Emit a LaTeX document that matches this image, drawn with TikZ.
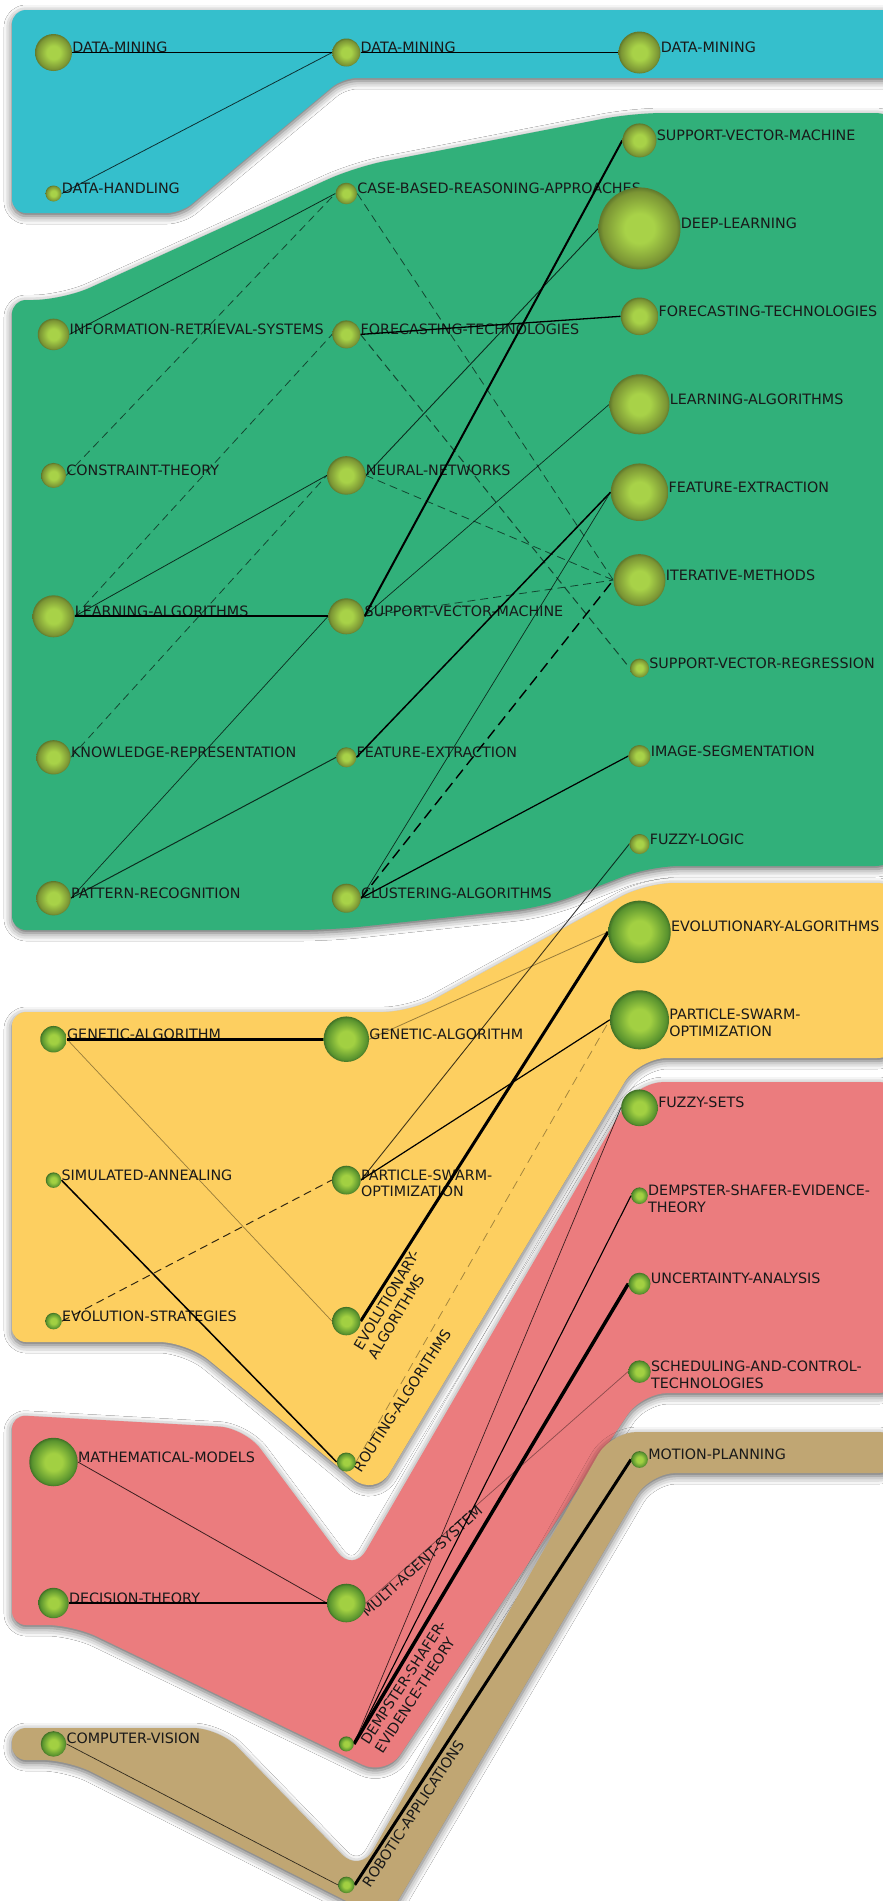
\documentclass[tikz,border=0pt]{standalone}
\usepackage{fontspec}
\setmainfont{DejaVu Sans}
\usetikzlibrary{shadows.blur}
\definecolor{cyanband}{RGB}{53,191,204}
\definecolor{greenband}{RGB}{49,176,122}
\definecolor{yellowband}{RGB}{253,207,96}
\definecolor{redband}{RGB}{235,124,126}
\definecolor{tanband}{RGB}{192,166,115}
\definecolor{aIn}{RGB}{168,210,72}
\definecolor{aOut}{RGB}{122,148,52}
\definecolor{aEdge}{RGB}{96,120,44}
\definecolor{bIn}{RGB}{162,208,66}
\definecolor{bOut}{RGB}{88,146,46}
\definecolor{bEdge}{RGB}{64,112,38}
\pgfdeclareradialshading{ballAshade}{\pgfpoint{0bp}{0bp}}{color(0bp)=(aIn); color(9bp)=(aIn); color(22.5bp)=(aOut); color(25bp)=(aEdge); color(50bp)=(aEdge)}
\pgfdeclareradialshading{ballBshade}{\pgfpoint{0bp}{0bp}}{color(0bp)=(bIn); color(9bp)=(bIn); color(22.5bp)=(bOut); color(25bp)=(bEdge); color(50bp)=(bEdge)}
\pgfdeclarelayer{bands}
\pgfdeclarelayer{labels}
\pgfdeclarelayer{edges}
\pgfsetlayers{bands,labels,edges,main}
\newcommand\twolines[2]{\vtop{\hbox{#1}\hbox{#2}}}
\begin{document}
\begin{tikzpicture}[x=1pt,y=-1pt,
  band/.style={blur shadow={shadow xshift=0pt,shadow yshift=-3pt,shadow blur radius=8pt,shadow opacity=62}},
  ballA/.style={circle,inner sep=0pt,shading=ballAshade},
  ballB/.style={circle,inner sep=0pt,shading=ballBshade},
  lbl/.style={anchor=base west,inner sep=0pt,text=black!90,font=\fontsize{14.3}{16.6}\selectfont},
  thinl/.style={line width=0.8pt,draw=black,draw opacity=0.75},
  lightl/.style={line width=0.8pt,draw=black,draw opacity=0.4},
  medl/.style={line width=1.5pt,draw=black},
  thkl/.style={line width=3pt,draw=black},
  dashl/.style={line width=0.8pt,draw=black,draw opacity=0.6,dash pattern=on 8pt off 5pt},
  dashlight/.style={line width=0.8pt,draw=black,draw opacity=0.35,dash pattern=on 9pt off 6pt},
  dashmed/.style={line width=1.4pt,draw=black,dash pattern=on 11pt off 6pt}]
\useasboundingbox (0,0) rectangle (883,1901);
\begin{pgfonlayer}{bands}
\fill[white] (0,0) rectangle (883,1901);
% cyan
\fill[cyanband,band,rounded corners=14pt] (12,10) -- (905,10) -- (905,78) -- (343,78) -- (181,213) -- (12,213) -- cycle;
% green
\fill[greenband,band,rounded corners=30pt] (12,300) -- (63,300) -- (355,167) -- (633,113) -- (905,113) -- (905,866) -- (650,866) -- (545,907) -- (330,930) [rounded corners=14pt] -- (12,930) -- cycle;
% yellow
\fill[yellowband,band,rounded corners=28pt] (12,1012) -- (411,1012) -- (646,883) -- (905,883) -- (905,1058) -- (639,1058) -- (375,1497) -- (187,1342) [rounded corners=14pt] -- (12,1342) -- cycle;
% red
\fill[redband,band,rounded corners=26pt] (12,1415) -- (245,1428) -- (353,1573) -- (638,1082) -- (905,1082) -- (905,1393) -- (642,1393) -- (386,1776) -- (73,1625) [rounded corners=14pt] -- (12,1625) -- cycle;
% tan
\fill[tanband,band,rounded corners=26pt] (12,1728) -- (219,1728) -- (360,1873) -- (611,1432) -- (905,1432) -- (905,1473) -- (650,1473) -- (386,1921) -- (68,1760) [rounded corners=14pt] -- (12,1760) -- cycle;
\end{pgfonlayer}
% column 1
\node[ballA,minimum size=37pt] (dm1) at (53.5,52.5) {};
\node[ballA,minimum size=16pt] (dh) at (53.5,193.5) {};
\node[ballA,minimum size=31.5pt] (irs) at (53.5,334.4) {};
\node[ballA,minimum size=25pt] (ct) at (53.5,475.4) {};
\node[ballA,minimum size=42pt] (la1) at (53.5,616.3) {};
\node[ballA,minimum size=34.3pt] (kr) at (53.5,757.3) {};
\node[ballA,minimum size=34.4pt] (pr) at (53.5,898.2) {};
\node[ballB,minimum size=26.5pt] (ga1) at (53.5,1039.2) {};
\node[ballB,minimum size=15.5pt] (sa) at (53.5,1180.1) {};
\node[ballB,minimum size=16.5pt] (es) at (53.5,1321.1) {};
\node[ballB,minimum size=48.5pt] (mm) at (53.5,1462) {};
\node[ballB,minimum size=30.4pt] (dt) at (53.5,1603) {};
\node[ballB,minimum size=25.5pt] (cv) at (53.5,1743.9) {};
% column 2
\node[ballA,minimum size=28pt] (dm2) at (346.3,52.5) {};
\node[ballA,minimum size=21.5pt] (cbr) at (346.3,193.5) {};
\node[ballA,minimum size=28pt] (ft2) at (346.3,334.4) {};
\node[ballA,minimum size=38.5pt] (nn) at (346.3,475.4) {};
\node[ballA,minimum size=36pt] (svm2) at (346.3,616.3) {};
\node[ballA,minimum size=20pt] (fe2) at (346.3,757.3) {};
\node[ballA,minimum size=29pt] (ca) at (346.3,898.2) {};
\node[ballB,minimum size=45.5pt] (ga2) at (346.3,1039.2) {};
\node[ballB,minimum size=28.8pt] (pso2) at (346.3,1180.1) {};
\node[ballB,minimum size=28.4pt] (ea2) at (346.3,1321.1) {};
\node[ballB,minimum size=19pt] (ra) at (346.3,1462) {};
\node[ballB,minimum size=38.6pt] (mas) at (346.3,1603) {};
\node[ballB,minimum size=15pt] (dst2) at (346.3,1743.9) {};
\node[ballB,minimum size=16.5pt] (rob) at (346.3,1884.9) {};
% column 3
\node[ballA,minimum size=42pt] (dm3) at (639.5,52.5) {};
\node[ballA,minimum size=34pt] (svm3) at (639.5,140.4) {};
\node[ballA,minimum size=82pt] (dl) at (639.5,228.4) {};
\node[ballA,minimum size=37.6pt] (ft3) at (639.5,316.3) {};
\node[ballA,minimum size=60pt] (la3) at (639.5,404.3) {};
\node[ballA,minimum size=57.5pt] (fe3) at (639.5,492.2) {};
\node[ballA,minimum size=52pt] (iter) at (639.5,580.1) {};
\node[ballA,minimum size=19pt] (svr) at (639.5,668.1) {};
\node[ballA,minimum size=22pt] (imgs) at (639.5,756) {};
\node[ballA,minimum size=20pt] (fl) at (639.5,844) {};
\node[ballB,minimum size=62.5pt] (ea3) at (639.5,931.9) {};
\node[ballB,minimum size=59pt] (pso3) at (639.5,1019.8) {};
\node[ballB,minimum size=36.7pt] (fs) at (639.5,1107.8) {};
\node[ballB,minimum size=16.6pt] (dst3) at (639.5,1195.7) {};
\node[ballB,minimum size=22pt] (ua) at (639.5,1283.7) {};
\node[ballB,minimum size=22.5pt] (sch) at (639.5,1371.6) {};
\node[ballB,minimum size=16.7pt] (mp) at (639.5,1459.5) {};
\begin{pgfonlayer}{labels}
\node[lbl] at (dm1.east) {DATA-MINING};
\node[lbl] at (dh.east) {DATA-HANDLING};
\node[lbl] at (irs.east) {INFORMATION-RETRIEVAL-SYSTEMS};
\node[lbl] at (ct.east) {CONSTRAINT-THEORY};
\node[lbl] at (la1.east) {LEARNING-ALGORITHMS};
\node[lbl] at (kr.east) {KNOWLEDGE-REPRESENTATION};
\node[lbl] at (pr.east) {PATTERN-RECOGNITION};
\node[lbl] at (ga1.east) {GENETIC-ALGORITHM};
\node[lbl] at (sa.east) {SIMULATED-ANNEALING};
\node[lbl] at (es.east) {EVOLUTION-STRATEGIES};
\node[lbl] at (mm.east) {MATHEMATICAL-MODELS};
\node[lbl] at (dt.east) {DECISION-THEORY};
\node[lbl] at (cv.east) {COMPUTER-VISION};
\node[lbl] at (dm2.east) {DATA-MINING};
\node[lbl] at (cbr.east) {CASE-BASED-REASONING-APPROACHES};
\node[lbl] at (ft2.east) {FORECASTING-TECHNOLOGIES};
\node[lbl] at (nn.east) {NEURAL-NETWORKS};
\node[lbl] at (svm2.east) {SUPPORT-VECTOR-MACHINE};
\node[lbl] at (fe2.east) {FEATURE-EXTRACTION};
\node[lbl] at (ca.east) {CLUSTERING-ALGORITHMS};
\node[lbl] at (ga2.east) {GENETIC-ALGORITHM};
\node[lbl] at (pso2.east) {\twolines{PARTICLE-SWARM-}{OPTIMIZATION}};
\node[lbl,rotate=59] at (361.7,1351.7) {\twolines{EVOLUTIONARY-}{ALGORITHMS}};
\node[lbl,rotate=57] at (361,1473.3) {ROUTING-ALGORITHMS};
\node[lbl,rotate=42] at (367,1617.5) {MULTI-AGENT-SYSTEM};
\node[lbl,rotate=57] at (368.5,1745.5) {\twolines{DEMPSTER-SHAFER-}{EVIDENCE-THEORY}};
\node[lbl,rotate=56.5] at (370,1888.3) {ROBOTIC-APPLICATIONS};
\node[lbl] at (dm3.east) {DATA-MINING};
\node[lbl] at (svm3.east) {SUPPORT-VECTOR-MACHINE};
\node[lbl] at (dl.east) {DEEP-LEARNING};
\node[lbl] at (ft3.east) {FORECASTING-TECHNOLOGIES};
\node[lbl] at (la3.east) {LEARNING-ALGORITHMS};
\node[lbl] at (fe3.east) {FEATURE-EXTRACTION};
\node[lbl] at (iter.east) {ITERATIVE-METHODS};
\node[lbl] at (svr.east) {SUPPORT-VECTOR-REGRESSION};
\node[lbl] at (imgs.east) {IMAGE-SEGMENTATION};
\node[lbl] at (fl.east) {FUZZY-LOGIC};
\node[lbl] at (ea3.east) {EVOLUTIONARY-ALGORITHMS};
\node[lbl] at (pso3.east) {\twolines{PARTICLE-SWARM-}{OPTIMIZATION}};
\node[lbl] at (fs.east) {FUZZY-SETS};
\node[lbl] at (dst3.east) {\twolines{DEMPSTER-SHAFER-EVIDENCE-}{THEORY}};
\node[lbl] at (ua.east) {UNCERTAINTY-ANALYSIS};
\node[lbl] at (sch.east) {\twolines{SCHEDULING-AND-CONTROL-}{TECHNOLOGIES}};
\node[lbl] at (mp.east) {MOTION-PLANNING};
\end{pgfonlayer}
\begin{pgfonlayer}{edges}
\draw[medl] (dm1.east) -- (dm2.west);
\draw[thinl] (dh.east) -- (dm2.west);
\draw[medl] (dm2.east) -- (dm3.west);
\draw[thinl] (irs.east) -- (cbr.west);
\draw[dashl] (ct.east) -- (cbr.west);
\draw[dashl] (la1.east) -- (ft2.west);
\draw[thinl] (la1.east) -- (nn.west);
\draw[medl,line width=1.7pt] (la1.east) -- (svm2.west);
\draw[dashl] (kr.east) -- (nn.west);
\draw[thinl,line width=0.7pt] (pr.east) -- (svm2.west);
\draw[thinl,line width=1pt] (pr.east) -- (fe2.west);
\draw[dashl] (cbr.east) -- (iter.west);
\draw[medl,line width=1.3pt] (ft2.east) -- (ft3.west);
\draw[dashl,line width=1pt] (ft2.east) -- (svr.west);
\draw[thinl,line width=0.9pt] (nn.east) -- (dl.west);
\draw[dashl] (nn.east) -- (iter.west);
\draw[medl,line width=2pt] (svm2.east) -- (svm3.west);
\draw[thinl,line width=0.7pt] (svm2.east) -- (la3.west);
\draw[dashl] (svm2.east) -- (iter.west);
\draw[medl] (fe2.east) -- (fe3.west);
\draw[thinl,line width=0.7pt] (ca.east) -- (fe3.west);
\draw[dashmed] (ca.east) -- (iter.west);
\draw[medl,line width=1.2pt] (ca.east) -- (imgs.west);
\draw[thkl] (ga1.east) -- (ga2.west);
\draw[lightl,line width=0.7pt] (ga1.east) -- (ea2.west);
\draw[medl] (sa.east) -- (ra.west);
\draw[dashl,line width=1pt,draw opacity=0.8] (es.east) -- (pso2.west);
\draw[lightl] (ga2.east) -- (ea3.west);
\draw[thinl,line width=0.9pt] (pso2.east) -- (fl.west);
\draw[medl,line width=1.2pt] (pso2.east) -- (pso3.west);
\draw[thkl] (ea2.east) -- (ea3.west);
\draw[dashlight] (ra.east) -- (pso3.west);
\draw[thinl] (mm.east) -- (mas.west);
\draw[medl] (dt.east) -- (mas.west);
\draw[lightl,line width=0.7pt] (mas.east) -- (sch.west);
\draw[thinl,line width=0.7pt] (dst2.east) -- (fs.west);
\draw[medl,line width=1.1pt] (dst2.east) -- (dst3.west);
\draw[thkl,line width=3.5pt] (dst2.east) -- (ua.west);
\draw[thinl,line width=0.7pt] (cv.east) -- (rob.west);
\draw[thkl] (rob.east) -- (mp.west);
\end{pgfonlayer}
\end{tikzpicture}
\end{document}
